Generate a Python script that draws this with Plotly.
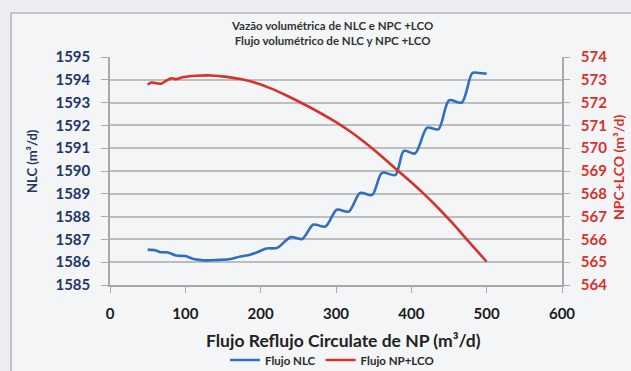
import plotly.graph_objects as go

# --- data ---
nlc_x = [50, 60, 67, 77, 88, 100, 111, 128, 144, 160, 173, 186, 195, 208, 222,
         240, 255, 270, 286, 301, 317, 332, 348, 361, 379, 390, 405, 421, 436,
         450, 467, 481, 490, 500]
nlc_y = [1586.55, 1586.52, 1586.44, 1586.43, 1586.29, 1586.27, 1586.14, 1586.08,
         1586.10, 1586.14, 1586.25, 1586.33, 1586.43, 1586.60, 1586.63,
         1587.10, 1587.02, 1587.65, 1587.56, 1588.30, 1588.22, 1589.04, 1588.95,
         1589.92, 1589.83, 1590.88, 1590.77, 1591.90, 1591.83, 1593.10, 1593.00,
         1594.30, 1594.30, 1594.27]

npc_x = [50, 55, 62, 68, 75, 82, 88, 98, 115, 135, 155, 175, 195, 215, 235,
         255, 275, 295, 315, 335, 355, 375, 395, 415, 435, 455, 475, 500]
npc_y = [572.78, 572.88, 572.85, 572.83, 572.97, 573.07, 573.03, 573.12, 573.18,
         573.19, 573.13, 573.02, 572.85, 572.60, 572.30, 571.97, 571.62, 571.24,
         570.82, 570.34, 569.80, 569.22, 568.65, 568.05, 567.40, 566.70, 565.95,
         565.02]

x_ticks = [0, 100, 200, 300, 400, 500, 600]
left_ticks = list(range(1585, 1596))
right_ticks = list(range(564, 575))

title_lines = ["Vazão volumétrica de NLC e NPC +LCO", "Flujo volumétrico de NLC y NPC +LCO"]

BLUE = "#2f6fbf"
RED = "#d8312a"
NAVY = "#1f3566"
GRID = "#bdbdbd"
FONT = "Lato"

fig = go.Figure()
fig.add_trace(go.Scatter(x=nlc_x, y=nlc_y, name="Flujo NLC", mode="lines",
                         line=dict(color=BLUE, width=2.6, shape="spline", smoothing=0.8)))
fig.add_trace(go.Scatter(x=npc_x, y=npc_y, name="Flujo NP+LCO", mode="lines", yaxis="y2",
                         line=dict(color=RED, width=2.6, shape="spline", smoothing=0.8)))

L, R, T, B = 110, 69, 57, 86
W, H = 631, 371
pw, ph = W - L - R, H - T - B

def px(xp):
    return (xp - L) / pw

def py(yp):
    return (H - B - yp) / ph

fig.update_layout(
    width=W, height=H,
    margin=dict(l=L, r=R, t=T, b=B, autoexpand=False),
    paper_bgcolor="#eceef1",
    plot_bgcolor="rgba(0,0,0,0)",
    showlegend=True,
    legend=dict(orientation="h", x=px(332), xanchor="center", y=py(360), yanchor="middle",
                font=dict(family=FONT, size=11.5, color="#2a2a2a", weight="bold"),
                bgcolor="rgba(0,0,0,0)", itemwidth=30, tracegroupgap=0),
    xaxis=dict(range=[0, 600], tickvals=x_ticks, showgrid=False, zeroline=False,
               automargin=False,
               showline=True, linecolor="#a8a8a8", linewidth=1.5,
               ticks="outside", ticklen=6, tickcolor="#a8a8a8", ticklabelstandoff=8,
               tickfont=dict(family=FONT, size=15, color="#1a1a1a", weight="bold")),
    yaxis=dict(range=[1585, 1595], tickvals=left_ticks, showgrid=True, gridcolor=GRID,
               automargin=False,
               gridwidth=2, zeroline=False, showline=True, linecolor="#a8a8a8", linewidth=1.5,
               ticks="outside", ticklen=7, tickcolor="#a8a8a8", ticklabelstandoff=8,
               tickfont=dict(family=FONT, size=15, color=NAVY, weight="bold")),
    yaxis2=dict(range=[564, 574], tickvals=right_ticks, overlaying="y", side="right",
                automargin=False,
                showgrid=False, zeroline=False, showline=True, linecolor="#a8a8a8",
                linewidth=1.5, ticks="outside", ticklen=6, tickcolor="#a8a8a8",
                ticklabelstandoff=8,
                tickfont=dict(family=FONT, size=15, color=RED, weight="bold")),
    shapes=[dict(type="rect", xref="paper", yref="paper", x0=px(11), y0=py(420),
                 x1=px(700), y1=py(13), line=dict(color="#c4c4c4", width=2),
                 fillcolor="#f4f5f7", layer="below")],
    annotations=[
        dict(text="<br>".join(title_lines), xref="paper", yref="paper", x=px(332),
             y=py(33), xanchor="center", yanchor="middle", showarrow=False,
             font=dict(family=FONT, size=11.5, color="#333333", weight="bold")),
        dict(text="Flujo Reflujo Circulate de NP (m³/d)", xref="paper", yref="paper",
             x=px(343), y=py(340), xanchor="center", yanchor="middle", showarrow=False,
             font=dict(family=FONT, size=17.5, color="#222222", weight="bold")),
        dict(text="NLC (m³/d)", xref="paper", yref="paper", x=px(32), y=py(161),
             xanchor="center", yanchor="middle", showarrow=False, textangle=-90,
             font=dict(family=FONT, size=13, color=NAVY, weight="bold")),
        dict(text="NPC+LCO (m³/d)", xref="paper", yref="paper", x=px(618), y=py(167),
             xanchor="center", yanchor="middle", showarrow=False, textangle=-90,
             font=dict(family=FONT, size=14, color=RED, weight="bold")),
    ],
)

fig.write_html("out.html")
